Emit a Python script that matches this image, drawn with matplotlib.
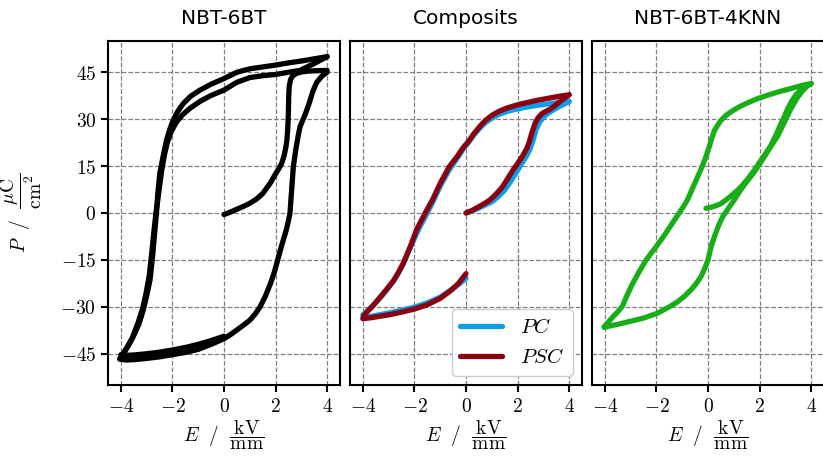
import numpy as np
import matplotlib
matplotlib.use('Agg')
import matplotlib.pyplot as plt
from matplotlib.ticker import FuncFormatter

plt.rcParams['mathtext.fontset'] = 'cm'
plt.rcParams['font.family'] = 'DejaVu Sans'

# NBT-6BT, E in kV/mm, P in uC/cm^2
nbt_virgin_E = [0.0, 0.25, 0.5, 0.75, 1.0, 1.25, 1.5, 1.79, 2.0, 2.15, 2.24, 2.33, 2.4, 2.44, 2.47, 2.49, 2.5, 2.51, 2.53, 2.58, 2.66, 2.8, 3.0, 3.3, 3.6, 4.0]
nbt_virgin_P = [-0.5, 0.3, 1.2, 2.1, 3.1, 4.4, 6.2, 9.5, 12.5, 14.5, 15.9, 18.3, 21.0, 23.3, 26.5, 30.0, 33.0, 37.0, 40.5, 42.6, 43.8, 44.6, 45.1, 45.4, 45.5, 45.6]

nbt_outer_E = [4.0, 3.5, 3.0, 2.5, 2.0, 1.5, 1.0, 0.5, 0.0, -0.5, -0.93, -1.3, -1.58, -1.8, -1.97, -2.1, -2.23, -2.36, -2.49, -2.57, -2.62, -2.68, -2.76, -2.87, -3.0, -3.13, -3.3, -3.52, -3.7, -3.9, -4.02]
nbt_outer_P = [50.0, 49.3, 48.6, 48.0, 47.3, 46.7, 46.1, 45.0, 43.0, 41.2, 39.3, 37.3, 35.0, 32.4, 29.7, 26.8, 23.3, 18.2, 12.7, 6.0, 0.0, -5.4, -13.0, -21.4, -26.5, -31.0, -35.5, -39.5, -42.3, -44.8, -46.2]

nbt_inner_E = [4.0, 3.5, 2.95, 2.5, 2.0, 1.5, 1.0, 0.5, 0.0, -0.5, -0.93, -1.3, -1.6, -1.85, -2.05, -2.2, -2.3, -2.4, -2.5, -2.58, -2.64, -2.72, -2.8, -2.9, -3.02, -3.15, -3.33, -3.55, -3.75, -3.92, -4.05]
nbt_inner_P = [50.0, 47.8, 45.6, 45.0, 44.3, 43.9, 43.3, 41.8, 39.3, 37.6, 35.7, 33.6, 31.5, 29.0, 26.0, 22.5, 19.0, 14.5, 8.5, 3.5, 0.0, -6.0, -12.5, -20.0, -25.5, -30.3, -35.0, -39.8, -42.8, -45.3, -46.7]

nbt_rise_E = [-4.0, -3.8, -3.5, -3.0, -2.5, -2.0, -1.5, -1.0, -0.5, 0.0, 0.25, 0.5, 0.75, 1.0, 1.2, 1.4, 1.6, 1.8, 1.95, 2.05, 2.15, 2.25, 2.35, 2.43, 2.5, 2.56, 2.62, 2.69, 2.78, 2.88, 2.95, 3.05, 3.15, 3.3, 3.45, 3.6, 3.8, 4.0]
nbt_rise_P = [-46.8, -47.0, -46.9, -46.5, -46.0, -45.3, -44.6, -43.6, -42.0, -40.2, -38.9, -37.4, -35.9, -34.3, -32.4, -30.0, -26.7, -22.6, -19.0, -16.0, -13.0, -10.0, -7.3, -5.0, -2.5, 0.0, 7.0, 14.8, 20.0, 24.8, 27.6, 29.6, 31.5, 35.0, 39.0, 41.8, 43.8, 45.0]

nbt_last_E = [-4.0, -3.8, -3.5, -3.0, -2.5, -2.0, -1.5, -1.0, -0.5, 0.0]
nbt_last_P = [-45.3, -45.5, -45.4, -45.0, -44.5, -43.8, -43.0, -42.0, -40.8, -39.4]

# composites
pc_virgin_E = [0.0, 0.25, 0.5, 0.75, 1.0, 1.25, 1.5, 1.7, 1.9, 2.05, 2.2, 2.35, 2.48, 2.6, 2.72, 2.85, 3.0, 3.2, 3.4, 3.6, 3.8, 4.0]
pc_virgin_P = [0.0, 0.7, 1.6, 2.6, 3.6, 5.2, 7.3, 9.7, 12.3, 14.3, 16.3, 18.3, 20.4, 23.2, 26.7, 29.0, 30.6, 32.0, 33.0, 34.0, 34.8, 35.6]
pc_upper_E = [4.0, 3.6, 3.2, 2.74, 2.3, 2.0, 1.6, 1.3, 1.0, 0.75, 0.54, 0.3, 0.1, -0.1, -0.35, -0.65, -1.0, -1.3, -1.55, -1.75, -1.95, -2.2, -2.45, -2.65, -2.85, -3.05, -3.25, -3.45, -3.65, -3.85, -4.0]
pc_upper_P = [35.6, 35.3, 34.9, 34.4, 33.8, 33.3, 32.5, 31.6, 30.3, 28.9, 27.2, 24.9, 22.6, 20.6, 17.4, 13.8, 8.6, 3.3, -0.7, -3.8, -7.2, -11.8, -16.6, -19.6, -22.2, -24.4, -26.4, -28.2, -29.9, -31.5, -32.6]
pc_lower_E = [-4.0, -3.7, -3.4, -2.95, -2.5, -2.0, -1.52, -1.0, -0.62, -0.3, 0.0]
pc_lower_P = [-33.5, -33.1, -32.6, -31.9, -31.1, -30.1, -28.8, -26.9, -24.8, -22.9, -20.9]

psc_virgin_E = [0.0, 0.25, 0.5, 0.75, 0.93, 1.15, 1.4, 1.6, 1.83, 2.0, 2.2, 2.35, 2.45, 2.55, 2.68, 2.8, 2.95, 3.1, 3.26, 3.45, 3.65, 3.85, 4.0]
psc_virgin_P = [0.0, 0.9, 2.0, 3.2, 4.2, 5.9, 8.2, 10.8, 13.8, 15.8, 18.3, 20.5, 22.6, 25.5, 28.7, 30.5, 31.8, 32.5, 33.2, 34.3, 35.7, 36.9, 37.8]
psc_upper_E = [4.0, 3.6, 3.2, 2.74, 2.3, 2.0, 1.6, 1.3, 1.0, 0.75, 0.54, 0.3, 0.1, -0.1, -0.35, -0.65, -1.0, -1.3, -1.55, -1.72, -1.92, -2.15, -2.43, -2.62, -2.8, -3.0, -3.2, -3.4, -3.6, -3.8, -3.98]
psc_upper_P = [37.8, 37.3, 36.7, 36.0, 35.2, 34.6, 33.6, 32.6, 31.2, 29.6, 27.7, 25.3, 22.9, 21.0, 18.0, 14.8, 9.5, 4.2, 0.5, -2.2, -5.4, -10.5, -16.0, -19.0, -21.5, -23.6, -25.6, -27.6, -29.6, -31.3, -33.0]
psc_lower_E = [-4.0, -3.7, -3.4, -2.95, -2.5, -2.0, -1.52, -1.0, -0.62, -0.3, 0.0]
psc_lower_P = [-33.8, -33.5, -33.1, -32.5, -31.7, -30.7, -29.4, -27.3, -25.0, -22.6, -19.4]

# NBT-6BT-4KNN
knn_virgin_E = [-0.08, 0.1, 0.3, 0.5, 0.7, 0.9, 1.15, 1.35, 1.55, 1.8, 2.05, 2.25, 2.45, 2.65, 2.8, 2.96, 3.1, 3.25, 3.4, 3.55, 3.75, 4.0]
knn_virgin_P = [1.5, 1.8, 2.3, 3.0, 4.2, 5.5, 7.3, 9.0, 11.0, 13.7, 16.8, 19.2, 21.7, 25.2, 28.0, 30.8, 33.5, 35.8, 37.7, 39.0, 40.3, 41.4]
knn_upper_E = [4.0, 3.8, 3.6, 3.22, 2.8, 2.4, 1.93, 1.5, 1.2, 0.9, 0.7, 0.5, 0.37, 0.25, 0.15, 0.05, -0.08, -0.23, -0.4, -0.6, -0.79, -0.95, -1.12, -1.4, -1.7, -2.05, -2.4, -2.7, -2.95, -3.15, -3.32, -3.5, -3.7, -3.88, -4.03]
knn_upper_P = [41.4, 41.1, 40.7, 39.8, 38.9, 37.9, 36.6, 35.1, 33.9, 32.4, 31.2, 29.6, 28.0, 26.4, 24.0, 21.2, 18.0, 14.8, 11.6, 7.9, 4.3, 2.1, 0.0, -3.5, -7.2, -11.2, -15.0, -19.2, -23.0, -26.5, -29.8, -31.6, -33.3, -35.0, -36.4]
knn_lower_E = [-4.03, -3.75, -3.5, -3.25, -2.9, -2.5, -1.95, -1.5, -1.2, -0.92, -0.65, -0.45, -0.27, -0.12, 0.0, 0.12, 0.25, 0.4, 0.57, 0.8, 1.02, 1.25, 1.5, 1.75, 1.93, 2.15, 2.4, 2.7, 2.95, 3.22, 3.45, 3.65, 3.85, 4.0]
knn_lower_P = [-36.6, -36.0, -35.6, -35.1, -34.4, -33.6, -32.0, -30.0, -28.5, -26.7, -24.5, -22.5, -20.3, -17.6, -15.0, -10.8, -7.5, -4.2, -1.2, 1.6, 4.2, 7.2, 10.0, 12.6, 14.8, 17.5, 20.8, 24.6, 28.8, 33.4, 36.7, 38.9, 40.6, 41.4]

titles = ['NBT-6BT', 'Composits', 'NBT-6BT-4KNN']
xticks = [-4, -2, 0, 2, 4]
yticks = [-45, -30, -15, 0, 15, 30, 45]

black = 'black'
blue = '#0b9eea'
red = '#8a0010'
green = '#18ae18'
lw = 3.8
style = dict(lw=lw, solid_capstyle='round', solid_joinstyle='round')

fig = plt.figure(figsize=(8.23, 4.61), dpi=100)
W, H = 823, 461
axes = []
for i in range(3):
    left = 108 + i * 242
    ax = fig.add_axes([left / W, (H - 385) / H, 232 / W, 344 / H])
    axes.append(ax)

ax1, ax2, ax3 = axes

for E, P in [(nbt_virgin_E, nbt_virgin_P), (nbt_outer_E, nbt_outer_P), (nbt_inner_E, nbt_inner_P),
             (nbt_rise_E, nbt_rise_P), (nbt_last_E, nbt_last_P)]:
    ax1.plot(E, P, color=black, **style)

ax2.plot(pc_virgin_E, pc_virgin_P, color=blue, label='$PC$', **style)
ax2.plot(pc_upper_E, pc_upper_P, color=blue, **style)
ax2.plot(pc_lower_E, pc_lower_P, color=blue, **style)
ax2.plot(psc_virgin_E, psc_virgin_P, color=red, label='$PSC$', **style)
ax2.plot(psc_upper_E, psc_upper_P, color=red, **style)
ax2.plot(psc_lower_E, psc_lower_P, color=red, **style)
ax2.legend(loc='lower right', fontsize=15, borderaxespad=0.45, handlelength=2.0,
           handletextpad=0.9, edgecolor='#cccccc', framealpha=1)

for E, P in [(knn_virgin_E, knn_virgin_P), (knn_upper_E, knn_upper_P), (knn_lower_E, knn_lower_P)]:
    ax3.plot(E, P, color=green, **style)

fmt = FuncFormatter(lambda v, pos: f'${v:g}$')
for i, ax in enumerate(axes):
    ax.set_xlim(-4.5, 4.5)
    ax.set_ylim(-55, 55)
    ax.set_xticks(xticks)
    ax.set_yticks(yticks)
    ax.xaxis.set_major_formatter(fmt)
    ax.yaxis.set_major_formatter(fmt)
    ax.grid(True, ls='--', color='gray', lw=0.9)
    ax.set_axisbelow(True)
    for s in ax.spines.values():
        s.set_linewidth(1.5)
    ax.tick_params(axis='both', direction='out', length=5, width=1.5, labelsize=14)
    ax.set_title(titles[i], fontsize=14.5, pad=12)
    ax.set_xlabel(r'$E\ \ /\ \ \dfrac{\mathrm{kV}}{\mathrm{mm}}$', fontsize=14, labelpad=2)
    if i > 0:
        ax.tick_params(axis='y', left=False, labelleft=False)

ax1.set_ylabel(r'$P\ \ /\ \ \dfrac{\mu\mathrm{C}}{\mathrm{cm}^2}$', fontsize=14, labelpad=12)

fig.savefig('out.png', dpi=100)
